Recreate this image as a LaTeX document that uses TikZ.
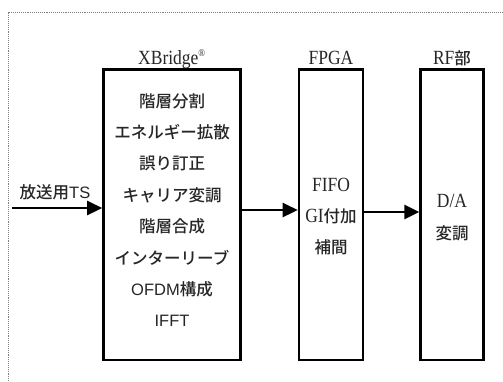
\documentclass[tikz,border=0pt]{standalone}
\usepackage{fontspec}
\setmainfont{Liberation Serif}
\newfontfamily\jp{Noto Sans CJK JP Medium}
\newfontfamily\ls{Liberation Sans}
\usetikzlibrary{arrows.meta}
\definecolor{txt}{HTML}{262626}
\newcommand\stretchtxt[1]{\scalebox{1}[1.15]{#1}}
\tikzset{
  blk/.style={draw, line width=2.4pt, minimum height=290.6pt, inner sep=0pt},
  lines/.style={align=center, text=txt, inner sep=0pt, font=\fontsize{16.5}{31.4}\selectfont},
  lab/.style={anchor=base, inner sep=0pt, text=txt, font=\fontsize{17.5}{20}\selectfont},
  arr/.style={line width=2.6pt, -{Triangle[length=15pt,width=14pt]}},
  frame/.style={densely dotted, line width=0.9pt, draw=black!50}
}
\begin{document}
\begin{tikzpicture}[x=1pt,y=-1pt]
\useasboundingbox (0,0) rectangle (503,381);
\draw[frame] (8,381) -- (8,12) -- (503,12);
\node[blk, minimum width=137.2pt] (xb) at (172,214.8) {};
\node[blk, minimum width=64.2pt] (fp) at (331,214.8) {};
\node[blk, minimum width=63pt] (rf) at (452,214.8) {};
\node[lab] (lxb) at (172,64) {\stretchtxt{XBridge\textsuperscript{\fontsize{9}{9}\selectfont ®}}};
\node[lab] (lfp) at (331,64) {\stretchtxt{FPGA}};
\node[lab] (lrf) at (452,64) {\stretchtxt{RF}{\jp\fontsize{16.5}{20}\selectfont 部}};
\node[lines] (txb) at (172,210) {{\jp 階層分割}\\{\jp エネルギー拡散}\\{\jp 誤り訂正}\\{\jp キャリア変調}\\{\jp 階層合成}\\{\jp インターリーブ}\\{\ls OFDM}{\jp 構成}\\{\ls IFFT}};
\node[lines] (tfp) at (331,216.5) {{\fontsize{17.5}{20}\selectfont\stretchtxt{FIFO}}\\{\fontsize{17.5}{20}\selectfont\stretchtxt{GI}}{\jp 付加}\\{\jp 補間}};
\node[lines] (trf) at (452,217.5) {{\fontsize{17.5}{20}\selectfont\stretchtxt{D/A}}\\{\jp 変調}};
\coordinate (in) at (12,208);
\node[lab, font=\fontsize{16.5}{20}\selectfont] (lin) at (55,198) {{\jp 放送用}{\ls TS}};
\draw[arr] (in) -- (in -| xb.west);
\draw[arr] ([yshift=4.8pt]xb.east) -- ([yshift=4.8pt]fp.west);
\draw[arr] ([yshift=2.8pt]fp.east) -- ([yshift=2.8pt]rf.west);
\end{tikzpicture}
\end{document}
